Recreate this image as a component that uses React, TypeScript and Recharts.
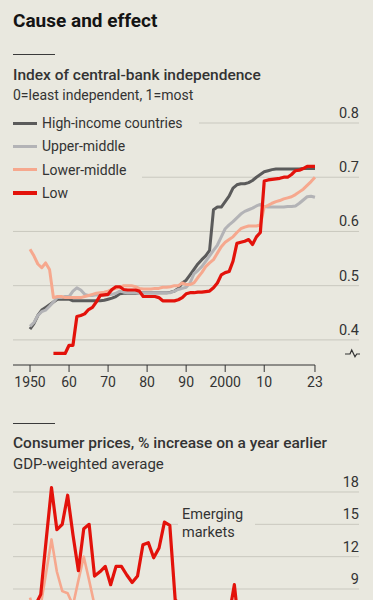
import React from 'react';
import { LineChart, Line, XAxis, YAxis, ReferenceLine } from 'recharts';

const BG = '#e9e8df';
const INK = '#333333';
const GRID = '#c9c8bf';
const RED = '#e3120b';
const PEACH = '#f6a88e';
const LIGHT_GREY = '#b3b3b6';
const DARK_GREY = '#5b5b5b';
const FONT = 'Roboto, "Noto Sans", sans-serif';

// index of central-bank independence, one value a year from 1950 to 2023
const highIncome = [
    0.420, 0.430, 0.445, 0.455, 0.460, 0.465, 0.470, 0.475, 0.475, 0.475,
    0.475, 0.472, 0.472, 0.472, 0.472, 0.472, 0.472, 0.472, 0.472, 0.473,
    0.475, 0.477, 0.480, 0.485, 0.486, 0.486, 0.486, 0.486, 0.487, 0.487,
    0.487, 0.487, 0.487, 0.487, 0.487, 0.487, 0.488, 0.490, 0.495, 0.505,
    0.510, 0.520, 0.530, 0.540, 0.548, 0.555, 0.565, 0.640, 0.645, 0.645,
    0.655, 0.665, 0.680, 0.686, 0.688, 0.688, 0.690, 0.694, 0.700, 0.705,
    0.710, 0.712, 0.714, 0.715, 0.715, 0.715, 0.715, 0.715, 0.715, 0.715,
    0.716, 0.716, 0.716, 0.716,
];
const upperMiddle = [
    0.425, 0.432, 0.445, 0.452, 0.455, 0.462, 0.470, 0.478, 0.478, 0.480,
    0.480, 0.490, 0.496, 0.492, 0.484, 0.482, 0.482, 0.483, 0.483, 0.483,
    0.483, 0.484, 0.486, 0.490, 0.488, 0.487, 0.487, 0.487, 0.487, 0.487,
    0.487, 0.487, 0.487, 0.487, 0.487, 0.487, 0.487, 0.490, 0.493, 0.495,
    0.497, 0.505, 0.522, 0.528, 0.535, 0.545, 0.555, 0.565, 0.575, 0.590,
    0.605, 0.612, 0.618, 0.625, 0.632, 0.637, 0.640, 0.643, 0.647, 0.650,
    0.646, 0.645, 0.645, 0.645, 0.645, 0.645, 0.646, 0.646, 0.647, 0.652,
    0.658, 0.664, 0.665, 0.663,
];
const lowerMiddle = [
    0.567, 0.555, 0.540, 0.533, 0.542, 0.530, 0.478, 0.480, 0.480, 0.478,
    0.478, 0.478, 0.478, 0.478, 0.480, 0.482, 0.484, 0.486, 0.487, 0.488,
    0.490, 0.493, 0.495, 0.497, 0.500, 0.500, 0.500, 0.498, 0.495, 0.494,
    0.494, 0.494, 0.495, 0.495, 0.497, 0.497, 0.498, 0.500, 0.500, 0.505,
    0.502, 0.502, 0.505, 0.515, 0.524, 0.535, 0.542, 0.548, 0.560, 0.572,
    0.580, 0.585, 0.590, 0.598, 0.605, 0.608, 0.610, 0.610, 0.610, 0.612,
    0.645, 0.648, 0.652, 0.655, 0.657, 0.660, 0.662, 0.664, 0.668, 0.673,
    0.678, 0.685, 0.692, 0.700,
];
const low = [
    null, null, null, null, null, null, 0.375, 0.375, 0.375, 0.375,
    0.390, 0.390, 0.443, 0.445, 0.448, 0.456, 0.460, 0.470, 0.482, 0.483,
    0.484, 0.493, 0.498, 0.498, 0.493, 0.492, 0.492, 0.492, 0.490, 0.480,
    0.480, 0.480, 0.480, 0.478, 0.472, 0.472, 0.472, 0.472, 0.474, 0.478,
    0.485, 0.487, 0.487, 0.488, 0.488, 0.489, 0.490, 0.496, 0.505, 0.520,
    0.524, 0.526, 0.545, 0.578, 0.580, 0.582, 0.585, 0.576, 0.590, 0.598,
    0.693, 0.695, 0.696, 0.697, 0.698, 0.700, 0.700, 0.705, 0.712, 0.713,
    0.716, 0.720, 0.720, 0.720,
];
const cbiTicks = [0.4, 0.5, 0.6, 0.7, 0.8];
const yearTicks = [1950, 1955, 1960, 1965, 1970, 1975, 1980, 1985, 1990, 1995, 2000, 2005, 2010, 2015, 2020, 2023];
const yearLabels: Record<number, string> = {
    1950: '1950', 1960: '60', 1970: '70', 1980: '80', 1990: '90', 2000: '2000', 2010: '10', 2023: '23',
};

// consumer prices, % on a year earlier, 1970 to 2023
const emerging = [
    7.0, 7.5, 8.5, 13.5, 18.4, 14.5, 15.0, 17.7, 14.0, 10.7,
    14.6, 15.0, 10.2, 10.6, 11.1, 9.4, 11.1, 11.1, 10.3, 9.6,
    10.2, 13.1, 13.3, 11.9, 12.8, 15.2, 14.9, 8.0, 7.5, 6.0,
    5.5, 5.5, 4.8, 5.0, 5.2, 5.3, 5.2, 6.5, 9.4, 4.8,
    5.8, 6.8, 5.5, 5.3, 4.7, 4.6, 4.2, 4.0, 4.5, 5.0,
    5.0, 5.8, 7.5, 6.5,
];
const advanced = [
    8.2, 6.5, 7.5, 10.5, 13.6, 10.6, 8.8, 8.6, 7.5, 9.8,
    12.0, 9.8, 7.5, 5.5, 5.0, 4.5, 3.0, 3.3, 3.7, 4.6,
    5.3, 4.6, 3.4, 2.9, 2.6, 2.6, 2.3, 2.1, 1.5, 1.4,
    2.3, 2.1, 1.5, 1.9, 2.1, 2.3, 2.4, 2.2, 3.4, 0.2,
    1.6, 2.7, 2.0, 1.4, 1.4, 0.3, 0.8, 1.7, 2.0, 1.4,
    0.7, 3.1, 7.3, 4.6,
];
const cpiTicks = [9, 12, 15, 18];

const cbiData = highIncome.map((v, i) => ({
    year: 1950 + i, high: v, upper: upperMiddle[i], lower: lowerMiddle[i], low: low[i],
}));
const cpiData = emerging.map((v, i) => ({ year: 1970 + i, em: v, adv: advanced[i] }));

const legend = [
    { name: 'High-income countries', color: DARK_GREY },
    { name: 'Upper-middle', color: LIGHT_GREY },
    { name: 'Lower-middle', color: PEACH },
    { name: 'Low', color: RED },
];

// value label sitting on the right end of a gridline
const gridLabel = (text: string) => (props: any) => {
    const vb = props.viewBox || {};
    return (
        <text x={(vb.x || 0) + (vb.width || 0)} y={(vb.y || 0) - 5} textAnchor="end"
            fill={INK} fontSize={14.5} fontFamily={FONT}>
            {text}
        </text>
    );
};

const XTick = (props: any) => {
    const label = yearLabels[props.payload.value];
    if (!label) return <g />;
    return (
        <text x={props.x} y={props.y + 13} textAnchor="middle" fill={INK} fontSize={14} fontFamily={FONT}>
            {label}
        </text>
    );
};

const txt = (top: number, size: number, weight: number, color = INK): React.CSSProperties => ({
    position: 'absolute', left: 13, top, fontSize: size, lineHeight: '18px',
    fontWeight: weight, color, fontFamily: FONT, whiteSpace: 'nowrap',
});

const rule = (top: number): React.CSSProperties => ({
    position: 'absolute', left: 13, top, width: 42, height: 1.3, background: '#3a3a3a',
});

export default function App() {
    return (
        <div style={{ position: 'absolute', left: 0, top: 0, width: 373, height: 600, background: BG, overflow: 'hidden' }}>
            <div style={{ ...txt(10, 19, 700, '#141414'), lineHeight: '22px' }}>Cause and effect</div>
            <div style={rule(54)} />
            <div style={txt(66, 15.5, 500)}>Index of central-bank independence</div>
            <div style={txt(85.5, 14, 400)}>0=least independent, 1=most</div>

            <div style={{ position: 'absolute', left: 0, top: 100 }}>
                <LineChart width={373} height={300} data={cbiData} margin={{ top: 23, right: 14, bottom: 5, left: 13 }}>
                    <XAxis dataKey="year" type="number" domain={[1945.64, 2034.28]} allowDataOverflow
                        ticks={yearTicks} tick={XTick} tickSize={7} tickMargin={2}
                        tickLine={{ stroke: INK }} axisLine={false} height={30} />
                    <YAxis orientation="right" width={0} domain={[0.3537, 0.8]} allowDataOverflow
                        ticks={cbiTicks} tick={false} axisLine={false} tickLine={false} />
                    {cbiTicks.map((t) => (
                        <ReferenceLine key={t} y={t} stroke={GRID} strokeWidth={1} ifOverflow="visible" label={gridLabel(t.toFixed(1))} />
                    ))}
                    <ReferenceLine ifOverflow="visible" stroke={INK} strokeWidth={1}
                        segment={[{ x: 1945.64, y: 0.3537 }, { x: 2023, y: 0.3537 }]} />
                    <Line dataKey="high" stroke={DARK_GREY} strokeWidth={3} dot={false} activeDot={false} isAnimationActive={false} strokeLinejoin="round" />
                    <Line dataKey="upper" stroke={LIGHT_GREY} strokeWidth={3} dot={false} activeDot={false} isAnimationActive={false} strokeLinejoin="round" />
                    <Line dataKey="lower" stroke={PEACH} strokeWidth={3} dot={false} activeDot={false} isAnimationActive={false} strokeLinejoin="round" />
                    <Line dataKey="low" stroke={RED} strokeWidth={3.2} dot={false} activeDot={false} isAnimationActive={false} strokeLinejoin="round" />
                </LineChart>
            </div>

            {legend.map((l, i) => (
                <div key={l.name} style={{
                    position: 'absolute', left: 13, top: 111.5 + i * 23.3, height: 23.3,
                    display: 'flex', alignItems: 'center', background: BG, paddingRight: 16,
                }}>
                    <div style={{ width: 24, height: 3.2, background: l.color, marginRight: 5 }} />
                    <span style={{ fontSize: 14, fontFamily: FONT, color: INK }}>{l.name}</span>
                </div>
            ))}

            <svg style={{ position: 'absolute', left: 340, top: 345 }} width={25} height={15}>
                <polyline points="5,9 10,9 11.7,5 15,11.7 16.7,9 20,9" fill="none" stroke={INK} strokeWidth={1.2} />
            </svg>

            <div style={rule(422.5)} />
            <div style={txt(434, 15.5, 500)}>Consumer prices, % increase on a year earlier</div>
            <div style={txt(455, 15, 400)}>GDP-weighted average</div>

            <div style={{ position: 'absolute', left: 0, top: 450 }}>
                <LineChart width={373} height={150} data={cpiData} margin={{ top: 20.44, right: 14, bottom: 0, left: 13 }}>
                    <XAxis dataKey="year" type="number" domain={[1966.84, 2031.18]} allowDataOverflow hide />
                    <YAxis orientation="right" width={0} domain={[7.98, 20]} allowDataOverflow
                        ticks={cpiTicks} tick={false} axisLine={false} tickLine={false} />
                    {cpiTicks.map((t) => (
                        <ReferenceLine key={t} y={t} stroke={GRID} strokeWidth={1} ifOverflow="visible" label={gridLabel(String(t))} />
                    ))}
                    <Line dataKey="adv" stroke={PEACH} strokeWidth={2.6} dot={false} activeDot={false} isAnimationActive={false} strokeLinejoin="round" />
                    <Line dataKey="em" stroke={RED} strokeWidth={3.2} dot={false} activeDot={false} isAnimationActive={false} strokeLinejoin="round" />
                </LineChart>
            </div>

            <div style={{
                position: 'absolute', left: 178, top: 506, padding: '0 12px 0 4px', background: BG,
                fontSize: 14.5, lineHeight: '18px', fontFamily: FONT, color: INK,
            }}>
                Emerging<br />markets
            </div>
        </div>
    );
}
